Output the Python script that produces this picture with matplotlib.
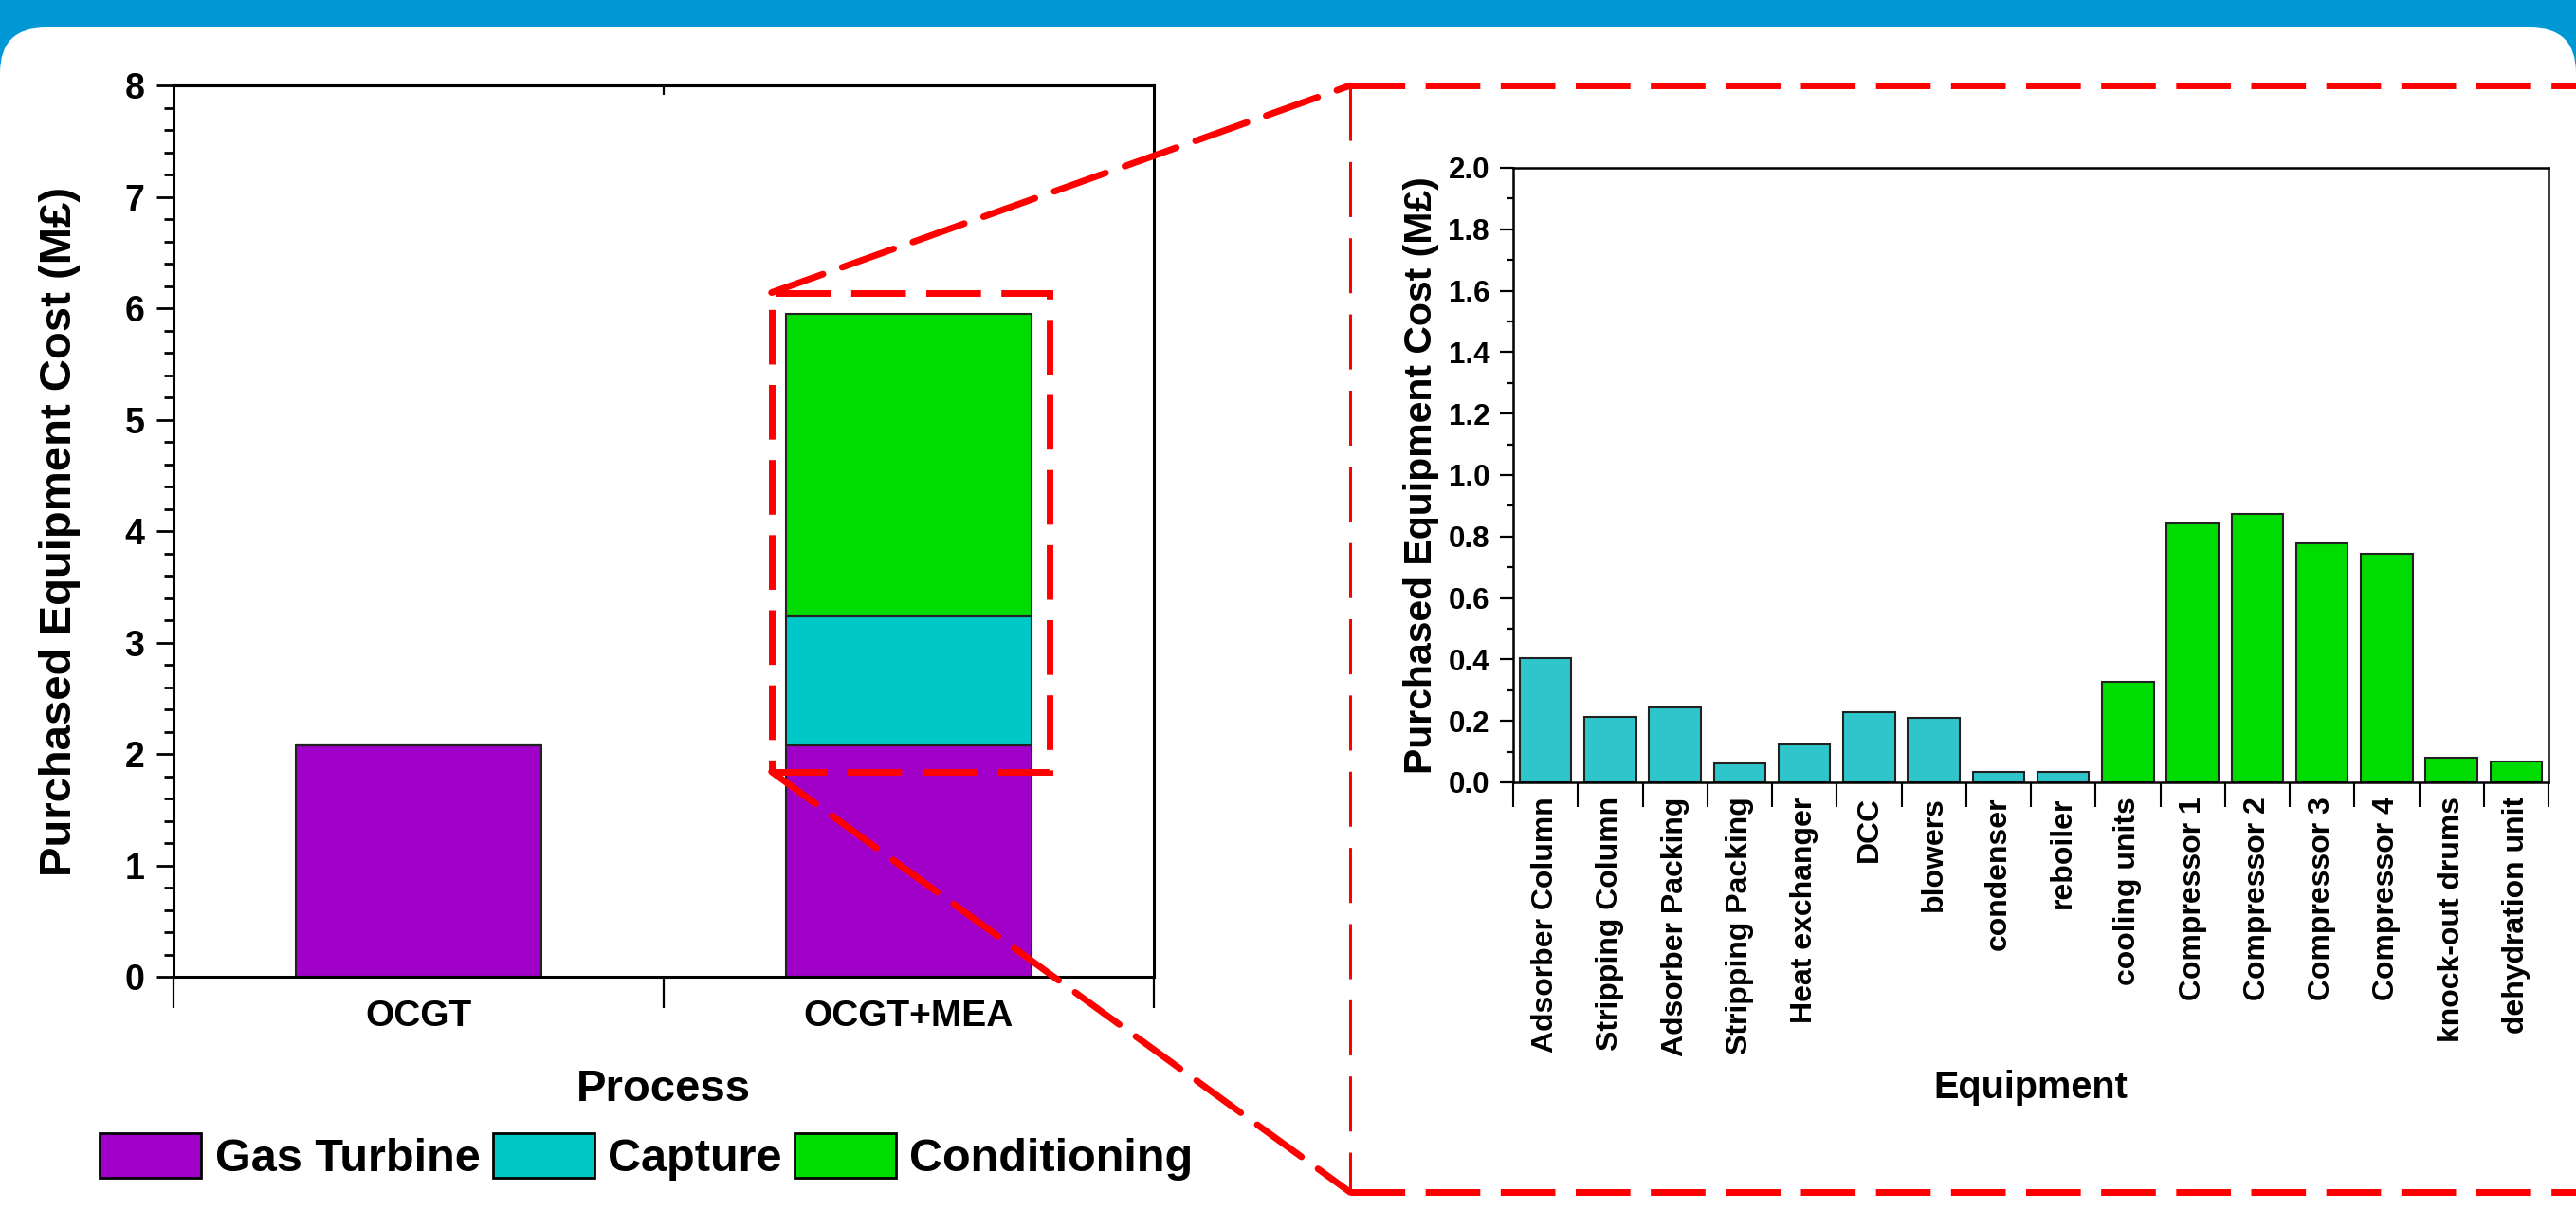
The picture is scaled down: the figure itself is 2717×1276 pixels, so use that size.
import numpy as np
import matplotlib
matplotlib.use('Agg')
import matplotlib.pyplot as plt
from matplotlib.patches import Rectangle, FancyBboxPatch, Patch, ConnectionPatch
from matplotlib.ticker import MultipleLocator

plt.rcParams['font.family'] = ['Liberation Sans', 'DejaVu Sans']
plt.rcParams['font.weight'] = 'bold'

# left chart: cost per process (M£)
process = ['OCGT', 'OCGT+MEA']
gas_turbine = np.array([2.08, 2.08])
capture = np.array([0.0, 1.15])
conditioning = np.array([0.0, 2.72])

# right chart: cost per equipment item (M£)
equipment = ['Adsorber Column', 'Stripping Column', 'Adsorber Packing', 'Stripping Packing',
             'Heat exchanger', 'DCC', 'blowers', 'condenser', 'reboiler',
             'cooling units', 'Compressor 1', 'Compressor 2', 'Compressor 3', 'Compressor 4',
             'knock-out drums', 'dehydration unit']
equip_cost = np.array([0.405, 0.213, 0.245, 0.062, 0.123, 0.228, 0.209, 0.033, 0.034,
                       0.328, 0.842, 0.873, 0.778, 0.745, 0.080, 0.067])
equip_group = ['Capture'] * 9 + ['Conditioning'] * 7

purple = '#A000C8'
cyan = '#00C8C8'
cyan2 = '#2EC5CB'
green = '#00DC00'
red = '#FF0000'
W, H = 2717, 1276

fig = plt.figure(figsize=(W / 100, H / 100), dpi=100)

# background: blue header band + white rounded panel
bg = fig.add_axes([0, 0, 1, 1], zorder=-5)
bg.set_xlim(0, W)
bg.set_ylim(H, 0)
bg.axis('off')
bg.add_patch(Rectangle((0, 0), W, 120, color='#0098D4', lw=0))
bg.add_patch(FancyBboxPatch((0, 29), W, H + 100, boxstyle='round,pad=0,rounding_size=48',
                            fc='white', ec='none'))

# ---- left: stacked bars ----
ax1 = fig.add_axes([183 / W, 1 - 1030 / H, 1034 / W, 940 / H])
x1 = np.arange(1, len(process) + 1)
ax1.bar(x1, gas_turbine, 0.5, color=purple, edgecolor='#222222', lw=1.5)
ax1.bar(x1, capture, 0.5, bottom=gas_turbine, color=cyan, edgecolor='#222222', lw=1.5)
ax1.bar(x1, conditioning, 0.5, bottom=gas_turbine + capture, color=green, edgecolor='#222222', lw=1.5)
ax1.set_xlim(0.5, 2.5)
ax1.set_ylim(0, 8)
ax1.set_xticks([0.5, 1.5, 2.5])
ax1.set_xticklabels([])
ax1.set_xticks(x1, minor=True)
ax1.set_xticklabels(process, minor=True)
ax1.tick_params(axis='x', which='major', direction='out', length=24, width=1.6)
ax1.tick_params(axis='x', which='minor', length=0, pad=17, labelsize=28)
ax1.yaxis.set_major_locator(MultipleLocator(1))
ax1.yaxis.set_minor_locator(MultipleLocator(0.2))
ax1.tick_params(axis='y', which='major', direction='out', length=13, width=2, pad=9, labelsize=27)
ax1.tick_params(axis='y', which='minor', direction='out', length=7, width=2)
top = ax1.secondary_xaxis('top')
top.set_xticks([1.5])
top.set_xticklabels([])
top.tick_params(direction='in', length=7, width=1.6)
for s in ax1.spines.values():
    s.set_linewidth(2.2)
top.spines['top'].set_linewidth(2.2)
ax1.set_ylabel('Purchased Equipment Cost (M£)', fontsize=34, fontweight='bold')
ax1.yaxis.set_label_coords(-0.095, 0.5)
ax1.set_xlabel('Process', fontsize=34, fontweight='bold')
ax1.xaxis.set_label_coords(0.5, -0.103)

handles = [Patch(facecolor=purple, edgecolor='black', lw=2),
           Patch(facecolor=cyan, edgecolor='black', lw=2),
           Patch(facecolor=green, edgecolor='black', lw=2)]
fig.legend(handles, ['Gas Turbine', 'Capture', 'Conditioning'], loc='center',
           bbox_to_anchor=(682 / W, 1 - 1220 / H), ncol=3, frameon=False,
           prop={'size': 35, 'weight': 'bold'}, handlelength=2.2, handleheight=1.1,
           handletextpad=0.3, columnspacing=0.27, borderpad=0, borderaxespad=0)

# ---- right: equipment bars ----
ax2 = fig.add_axes([1596 / W, 1 - 825 / H, 1092 / W, 648 / H])
x2 = np.arange(1, len(equipment) + 1)
colors = [cyan2 if g == 'Capture' else green for g in equip_group]
ax2.bar(x2, equip_cost, 0.8, color=colors, edgecolor='#222222', lw=1.5)
ax2.set_xlim(0.5, len(equipment) + 0.5)
ax2.set_ylim(0, 2.0)
ax2.set_xticks(np.arange(0.5, len(equipment) + 1))
ax2.set_xticklabels([])
ax2.set_xticks(x2, minor=True)
ax2.set_xticklabels(equipment, minor=True, rotation=90)
ax2.tick_params(axis='x', which='major', direction='out', length=19, width=1.5)
ax2.tick_params(axis='x', which='minor', length=0, pad=11, labelsize=23)
ax2.yaxis.set_major_locator(MultipleLocator(0.2))
ax2.yaxis.set_minor_locator(MultipleLocator(0.1))
ax2.yaxis.set_major_formatter(matplotlib.ticker.FormatStrFormatter('%.1f'))
ax2.tick_params(axis='y', which='major', direction='out', length=10, width=1.6, pad=8, labelsize=22.5)
ax2.tick_params(axis='y', which='minor', direction='out', length=5, width=1.6)
for s in ax2.spines.values():
    s.set_linewidth(1.8)
ax2.set_ylabel('Purchased Equipment Cost (M£)', fontsize=29.5, fontweight='bold')
ax2.yaxis.set_label_coords(-0.071, 0.5)
ax2.set_xlabel('Equipment', fontsize=28.5, fontweight='bold')
ax2.xaxis.set_label_coords(0.5, -0.468)

# ---- zoom callout ----
dash = (0, (8.3, 3.1))
bx0, bx1, by0, by1 = 1.72, 2.287, 1.84, 6.14
ax1.add_patch(Rectangle((bx0, by0), bx1 - bx0, by1 - by0, fill=False, ec=red, lw=5,
                        ls=dash, clip_on=False, zorder=6))
rx0, rx1, ry0, ry1 = -0.1575, 1.1, -0.667, 1.134
ax2.plot([rx0, rx1], [ry1, ry1], color=red, lw=5, ls=dash, transform=ax2.transAxes, clip_on=False)
ax2.plot([rx0, rx1], [ry0, ry0], color=red, lw=5, ls=dash, transform=ax2.transAxes, clip_on=False)
ax2.plot([rx0, rx0], [ry1, ry0], color=red, lw=2.2, ls=(0, (19, 7.3)), transform=ax2.transAxes,
         clip_on=False)
for ya, yb in [(by1, ry1), (by0, ry0)]:
    con = ConnectionPatch(xyA=(bx0, ya), coordsA=ax1.transData, xyB=(rx0, yb), coordsB=ax2.transAxes,
                          color=red, lw=5, ls=dash, zorder=8)
    fig.add_artist(con)

fig.savefig('out.png', dpi=100)
